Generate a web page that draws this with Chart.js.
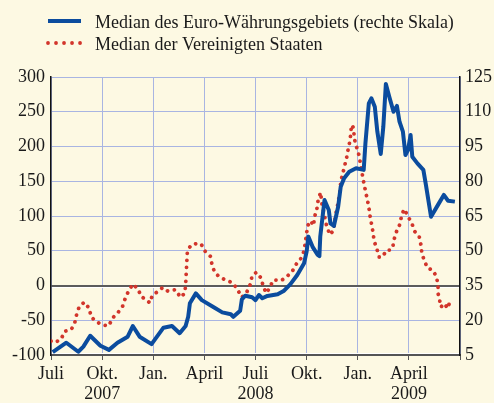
<!DOCTYPE html>
<html>
<head>
<meta charset="utf-8">
<script src="https://cdn.jsdelivr.net/npm/chart.js@4.4.1/dist/chart.umd.min.js"></script>
<style>
  html, body { margin: 0; padding: 0; background: #fdf9e3; }
  #wrap { width: 494px; height: 403px; }
</style>
</head>
<body>
<div id="wrap"><canvas id="chart" width="494" height="403"></canvas></div>
<script>
// x values are months since July 2007 (0 = Juli 2007, 24 = Juli 2009)
const xTickLabels = [["Juli"], ["Okt.", "2007"], ["Jan."], ["April"], ["Juli", "2008"], ["Okt."], ["Jan."], ["April", "2009"], ""]

// Median des Euro-Währungsgebiets, right scale
const euroMonths = [0.1, 0.9, 1.6, 1.9, 2.3, 2.9, 3.4, 3.9, 4.5, 4.8, 5.2, 5.9, 6.6, 7.1, 7.55, 7.9, 8.05, 8.15, 8.5, 8.85,
  9.55, 10.05, 10.55, 10.7, 11.1, 11.2, 11.4, 11.8, 12.0, 12.2, 12.4, 12.7, 13.3, 13.65, 14.05, 14.45, 14.85, 15.0, 15.1, 15.35,
  15.65, 15.75, 15.8, 16.05, 16.3, 16.4, 16.6, 16.85, 17.0, 17.2, 17.5, 17.9, 18.35, 18.45, 18.65, 18.8, 19.0, 19.15, 19.35, 19.5,
  19.65, 19.85, 20.1, 20.3, 20.45, 20.65, 20.8, 20.95, 21.1, 21.2, 21.5, 21.85, 22.0, 22.3, 22.7, 23.05, 23.3, 23.7]
const euroMedian = [6.2, 10.3, 6.4, 8.6, 13.3, 9.0, 7.2, 10.3, 12.9, 17.5, 12.9, 9.7, 16.8, 17.5, 14.4, 17.5, 21.5, 27.3, 31.6, 28.7,
  25.6, 23.4, 22.6, 21.5, 24.1, 29.0, 30.6, 29.9, 28.7, 30.9, 29.5, 30.5, 31.2, 32.6, 35.6, 39.5, 44.6, 49.6, 56.1, 51.7,
  48.2, 47.7, 56.1, 71.9, 67.6, 61.8, 60.7, 69.0, 77.6, 81.3, 84.1, 85.6, 84.9, 96.4, 113.6, 115.8, 112.2, 101.4, 91.8, 103.5,
  122.0, 116.5, 110.0, 112.5, 105.7, 101.4, 91.3, 93.5, 100.0, 90.6, 87.7, 84.9, 78.4, 64.7, 69.7, 74.1, 71.6, 71.2]

// Median der Vereinigten Staaten, left scale
const usMonths = [0.0, 0.25, 0.6, 0.8, 1.2, 1.4, 1.5, 1.65, 1.95, 2.25, 2.35, 2.65, 3.05, 3.4, 3.6, 3.9, 4.2, 4.35, 4.55, 4.8,
  5.1, 5.3, 5.55, 5.8, 5.95, 6.25, 6.55, 6.85, 7.3, 7.6, 7.85, 7.9, 7.95, 8.0, 8.2, 8.5, 8.8, 9.05, 9.35, 9.45,
  9.6, 9.9, 10.25, 10.65, 10.9, 11.2, 11.5, 11.7, 11.8, 12.05, 12.35, 12.45, 12.65, 12.85, 13.05, 13.5, 13.8, 14.15, 14.4, 14.7,
  14.85, 14.97, 15.06, 15.25, 15.4, 15.47, 15.6, 15.67, 15.77, 15.82, 15.92, 16.02, 16.18, 16.37, 16.57, 16.71, 16.84, 16.96, 17.0, 17.12,
  17.34, 17.43, 17.53, 17.59, 17.63, 17.75, 17.79, 17.86, 18.02, 18.12, 18.28, 18.37, 18.47, 18.57, 18.66, 18.72, 18.82, 18.9, 18.96, 19.12,
  19.25, 19.45, 19.69, 19.94, 20.06, 20.14, 20.28, 20.47, 20.57, 20.72, 20.96, 21.18, 21.34, 21.61, 21.71, 21.76, 21.9, 22.1, 22.41, 22.63,
  22.71, 22.72, 22.82, 22.88, 23.08, 23.28, 23.43]
const usMedian = [-80, -82, -77, -66, -63, -53, -42, -31, -24, -33, -45, -52, -57, -58, -47, -40, -30, -19, -8, 2,
  -5, -16, -20, -25, -14, -9, -3, -8, -6, -17, -11, 1, 25, 48, 58, 60, 60, 49, 42, 30,
  19, 12, 8, 4, -4, -17, -9, 2, 14, 19, 10, -2, -11, -2, 8, 7, 12, 20, 31, 40,
  50, 70, 86, 93, 86, 99, 110, 122, 130, 134, 113, 104, 85, 73, 79, 103, 118, 136, 149, 161,
  183, 195, 207, 218, 231, 227, 215, 204, 193, 181, 158, 146, 134, 123, 111, 100, 87, 76, 64, 53,
  41, 41, 51, 51, 56, 67, 78, 88, 100, 110, 99, 89, 78, 70, 58, 47, 36, 25, 22, 12,
  -1, -12, -23, -31, -26, -33, -21]

const gridBlue = "#a9b5e2"
const serif = "'Liberation Serif', 'Times New Roman', serif"

// thin white rules next to the zero line and the bottom axis
const whiteRules = {
  id: "whiteRules",
  beforeDatasetsDraw(chart) {
    const { ctx, chartArea } = chart
    const y0 = chart.scales.y.getPixelForValue(0)
    ctx.save()
    ctx.strokeStyle = "#ffffff"
    ctx.lineWidth = 1
    ctx.beginPath()
    ctx.moveTo(chartArea.left + 1, Math.round(y0) + 1.5)
    ctx.lineTo(chartArea.right - 1, Math.round(y0) + 1.5)
    ctx.moveTo(chartArea.left + 1, chartArea.bottom - 1.5)
    ctx.lineTo(chartArea.right - 1, chartArea.bottom - 1.5)
    ctx.stroke()
    ctx.restore()
  }
}

const legendLines = {
  id: "legendLines",
  afterDraw(chart) {
    const ctx = chart.ctx
    ctx.save()
    chart.data.datasets.forEach((ds, i) => {
      const y = 21 + i * 22
      ctx.beginPath()
      ctx.strokeStyle = ds.borderColor
      ctx.lineWidth = ds.borderWidth
      ctx.lineCap = ds.borderCapStyle || "butt"
      ctx.setLineDash(ds.borderDash ? [0.01, 8] : [])
      ctx.moveTo(48, y)
      ctx.lineTo(81, y)
      ctx.stroke()
      ctx.setLineDash([])
      ctx.fillStyle = "#1a1a1a"
      ctx.font = "18px " + serif
      ctx.textBaseline = "alphabetic"
      ctx.fillText(ds.label, 95, y + 7)
    })
    ctx.restore()
  }
}

new Chart(document.getElementById("chart"), {
  type: "line",
  data: {
    datasets: [
      {
        label: "Median des Euro-Währungsgebiets (rechte Skala)",
        data: euroMonths.map((m, i) => ({ x: m, y: euroMedian[i] })),
        yAxisID: "y1",
        borderColor: "#0b4c9e",
        borderWidth: 4,
        borderJoinStyle: "round",
        pointRadius: 0,
        tension: 0
      },
      {
        label: "Median der Vereinigten Staaten",
        data: usMonths.map((m, i) => ({ x: m, y: usMedian[i] })),
        yAxisID: "y",
        borderColor: "#d2352b",
        borderWidth: 3.8,
        borderDash: [0.01, 7],
        borderCapStyle: "round",
        pointRadius: 0,
        tension: 0
      }
    ]
  },
  options: {
    responsive: false,
    animation: false,
    layout: { padding: { top: 77, left: 0, right: 0, bottom: 0 } },
    plugins: { legend: { display: false }, tooltip: { enabled: false } },
    scales: {
      x: {
        type: "linear",
        min: 0,
        max: 24,
        afterFit: (scale) => { scale.height = 48 },
        ticks: {
          stepSize: 3,
          autoSkip: false,
          maxRotation: 0,
          padding: 4,
          color: "#1a1a1a",
          font: { family: serif, size: 18, lineHeight: 1.11 },
          callback: (value) => xTickLabels[value / 3] ?? ""
        },
        grid: { color: gridBlue, lineWidth: 1, tickColor: "#555", tickLength: 5 },
        border: { color: "#555", width: 2 }
      },
      y: {
        position: "left",
        min: -100,
        max: 300,
        afterFit: (scale) => { scale.width = 51 },
        ticks: { stepSize: 50, padding: 6, color: "#1a1a1a", font: { family: serif, size: 18 } },
        grid: {
          drawTicks: false,
          color: (c) => (c.tick && c.tick.value === 0 ? "#5c5c5c" : gridBlue),
          lineWidth: (c) => (c.tick && c.tick.value === 0 ? 2 : 1)
        },
        border: { color: "#111", width: 1.5 }
      },
      y1: {
        position: "right",
        min: 5,
        max: 125,
        afterFit: (scale) => { scale.width = 34 },
        ticks: { stepSize: 15, padding: 5, color: "#1a1a1a", font: { family: serif, size: 18 } },
        grid: { drawOnChartArea: false, drawTicks: false },
        border: { color: "#111", width: 1.5 }
      }
    }
  },
  plugins: [whiteRules, legendLines]
})
</script>
</body>
</html>
